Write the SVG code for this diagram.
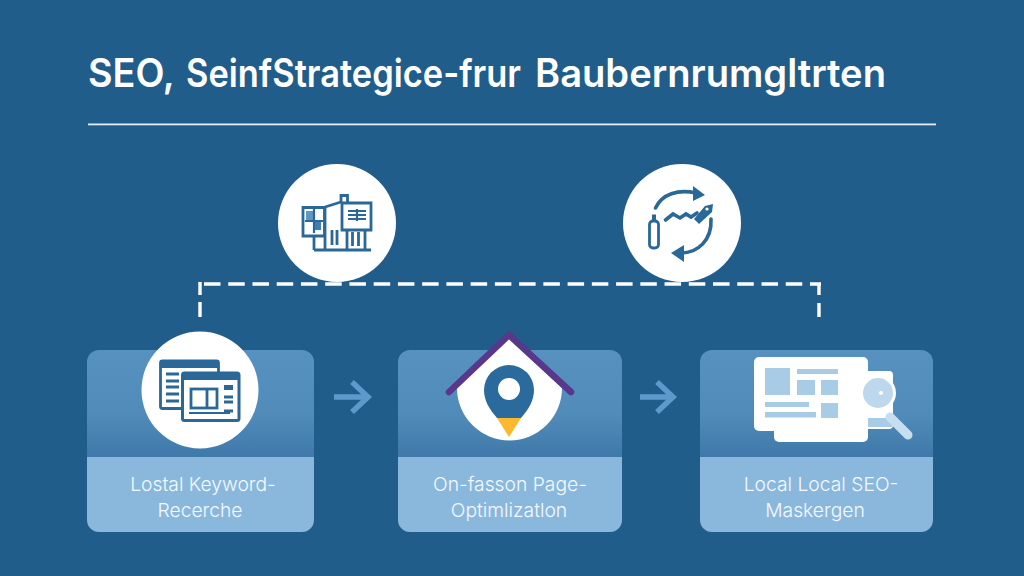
<svg xmlns="http://www.w3.org/2000/svg" width="1024" height="576" viewBox="0 0 1024 576">
<defs>
<linearGradient id="cardTop" x1="0" y1="0" x2="0" y2="1"><stop offset="0" stop-color="#5791c0"/><stop offset="0.6" stop-color="#518bba"/><stop offset="1" stop-color="#3f79a9"/></linearGradient>
<clipPath id="c1"><rect x="87" y="350" width="227" height="182" rx="12"/></clipPath>
<clipPath id="c2"><rect x="398" y="350" width="224" height="182" rx="12"/></clipPath>
<clipPath id="c3"><rect x="700" y="350" width="233" height="182" rx="12"/></clipPath>
</defs>
<style>
.title{font-family:"Inter","Liberation Sans",sans-serif;font-weight:600;font-size:39px;fill:#fff}
.label{font-family:"Inter","Liberation Sans",sans-serif;font-weight:300;font-size:19.3px;fill:#f4f9fd;text-anchor:middle}
.top{fill:url(#cardTop)}
.bot{fill:#8ab8dc}
.i{fill:none;stroke:#2a6898;stroke-width:2.800}
.thick{fill:none;stroke:#2a6898;stroke-width:3.600;stroke-linecap:round}
.f{fill:#2a6898}
.lb{fill:#a9cce6}
.dash{fill:none;stroke:#fff;stroke-width:3.400;stroke-dasharray:16.5 7.74}
.solid{fill:none;stroke:#fff;stroke-width:3.400}
.arrow{fill:none;stroke:#5c9acb;stroke-width:5.500;stroke-linecap:butt;stroke-linejoin:miter}
</style>
<rect width="1024" height="576" fill="#215d8b"/>
<g id="title">
<text class="title" y="87"><tspan x="88" textLength="86" lengthAdjust="spacingAndGlyphs">SEO,</tspan> <tspan x="186" textLength="335" lengthAdjust="spacingAndGlyphs">SeinfStrategice-frur</tspan> <tspan x="535" textLength="351" lengthAdjust="spacingAndGlyphs">Baubernrumgltrten</tspan></text>
<rect x="88" y="123.500" width="848" height="1.800" fill="#e4eef6"/>
</g>
<g id="connectors">
<path class="dash" d="M204 284H821"/>
<path class="solid" d="M200 282V295M200 302V317M819 284V295M819 303V317"/>
<path class="arrow" d="M334 397H367M352 382L368 397L352 412"/>
<path class="arrow" d="M640 397H672M657 382L673 397L657 412"/>
</g>
<g id="node-top-building">
<circle cx="337" cy="223" r="59" fill="#fff"/>
<rect x="306" y="211" width="7" height="9" fill="#5f97c4"/>
<rect x="315" y="222" width="6" height="8" fill="#3d7fb0"/>
<g class="i">
<path d="M303 207.500H324.500V236H303Z"/>
<path d="M314 209V233M305 221H323" stroke-width="2.200"/>
<path d="M325 207L341 202M325 207V250M314 236V250"/>
<path d="M342 203H371V230H342Z"/>
<path d="M341 203V195.500H347.500V203"/>
<path d="M348 211H366M348 215H366M348 219H366M357 209V221" stroke-width="2.200"/>
<path d="M347 230V250M365 230V250"/>
<path d="M352.500 232V246M358.500 232V246"/>
<path d="M332 230V245M337 230V245"/>
<path d="M314 250H371"/>
</g>
</g>
<g id="node-top-cycle">
<circle cx="682" cy="223" r="59" fill="#fff"/>
<path class="thick" d="M655.500 208C662 194 678 189 696 193"/>
<path class="f" d="M693 186L705 195L693 201Z"/>
<path class="thick" d="M711 219C712 240 698 253 681 253"/>
<path class="f" d="M684 245L671 253L684 262Z"/>
<path class="thick" d="M665.500 220L673 214L680 218L686 214L691 217L697 213" stroke-width="2.800"/>
<path class="f" d="M694 219L705 206L713 204L712 212L699 224Z"/>
<circle cx="707" cy="209" r="1.600" fill="#fff"/>
<rect x="649.500" y="221" width="9" height="27" rx="3.500" fill="none" stroke="#2a6898" stroke-width="2.800"/>
<rect x="652" y="214.500" width="4" height="7" fill="#2a6898"/>
</g>
<g id="node-keyword">
<g clip-path="url(#c1)"><rect class="top" x="87" y="350" width="227" height="107"/><rect class="bot" x="87" y="457" width="227" height="75"/></g>
<circle cx="200" cy="390" r="58.500" fill="#fff"/>
<g class="i">
<rect x="160.500" y="361" width="58" height="47.500" rx="2"/>
<rect x="160" y="360" width="59" height="8" fill="#2a6898" stroke="none"/>
<path d="M166 374H179M166 381H179M166 387H179M166 394H179M166 401H179"/>
<rect x="182.500" y="373" width="56.500" height="47.500" rx="2" fill="#fff" stroke-width="3"/>
<rect x="182" y="372" width="57" height="8" fill="#2a6898" stroke="none"/>
<rect x="191" y="389" width="26" height="19"/>
<path d="M207 389V408"/>
<path d="M189 413H230" stroke-width="2"/>
<path d="M224 397H233M224 402H233M224 411H233"/>
<rect x="224" y="385" width="9" height="5" fill="#2a6898" stroke="none"/>
</g>
<text class="label" x="203" y="490.500">Lostal Keyword-</text>
<text class="label" x="200" y="516.500">Recerche</text>
</g>
<g id="node-page">
<g clip-path="url(#c2)"><rect class="top" x="398" y="350" width="224" height="107"/><rect class="bot" x="398" y="457" width="224" height="75"/></g>
<path d="M509 337L562 388A52.500 52.500 0 1 1 457 388Z" fill="#fff"/>
<path d="M449 392L509 335L571 392" fill="none" stroke="#59378a" stroke-width="6.500" stroke-linecap="round" stroke-linejoin="miter"/>
<path d="M484 390A25 25 0 0 1 534 390C534 400 529 409 521 418H497C489 409 484 400 484 390Z" fill="#2a6a9d"/>
<path d="M497 418H521L509 437Z" fill="#fbb92d"/>
<circle cx="509" cy="389" r="11" fill="#fff"/>
<text class="label" x="510" y="490.500">On-fasson Page-</text>
<text class="label" x="509" y="516.500">Optimlizatlon</text>
</g>
<g id="node-seo">
<g clip-path="url(#c3)"><rect class="top" x="700" y="350" width="233" height="107"/><rect class="bot" x="700" y="457" width="233" height="75"/></g>
<rect x="774" y="370" width="94" height="72" rx="5" fill="#fff"/>
<rect x="850" y="371" width="43" height="58" rx="4" fill="#fff"/>
<rect x="754" y="357" width="114" height="74" rx="5" fill="#fff"/>
<rect class="lb" x="765" y="368" width="25" height="27"/>
<rect class="lb" x="797" y="369" width="41" height="5"/>
<rect class="lb" x="797" y="380" width="18" height="15"/>
<rect class="lb" x="821" y="380" width="17" height="15"/>
<rect class="lb" x="765" y="402" width="44" height="5"/>
<rect class="lb" x="765" y="412" width="51" height="5.500"/>
<rect class="lb" x="821" y="403" width="17" height="15"/>
<rect class="lb" x="868" y="418" width="24" height="9"/>
<path d="M890 417L908 435" stroke="#c7deef" stroke-width="9" stroke-linecap="round"/>
<circle cx="878" cy="393" r="16.500" fill="#bdd8ec" stroke="#fff" stroke-width="3"/>
<circle cx="881" cy="393" r="2" fill="#fff"/>
<text class="label" x="821" y="490.500">Local Local SEO-</text>
<text class="label" x="815" y="516.500">Maskergen</text>
</g>
</svg>
